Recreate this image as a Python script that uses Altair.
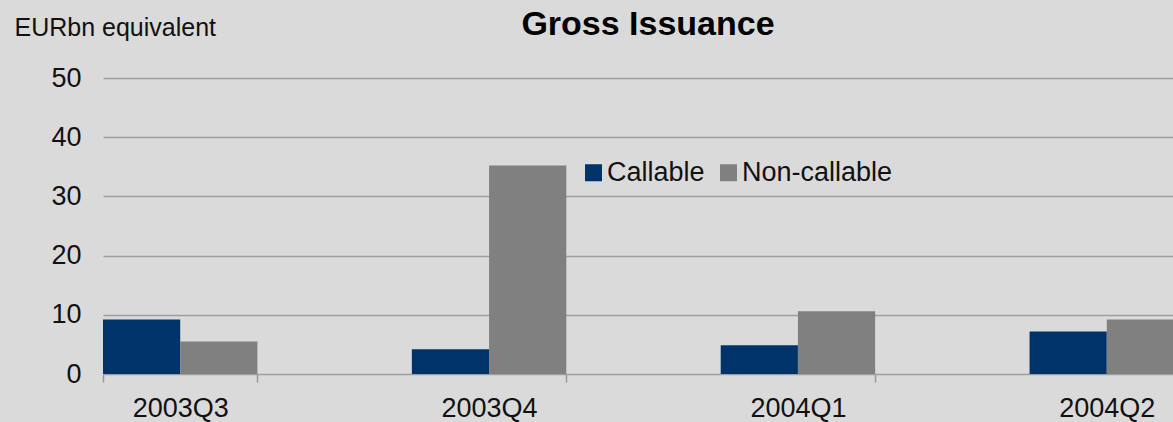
import altair as alt
import pandas as pd

quarters = ["2003Q3", "2003Q4", "2004Q1", "2004Q2"]
callable_vals = [9.2, 4.2, 4.85, 7.2]
non_callable_vals = [5.5, 35.2, 10.6, 9.2]
series = ["Callable", "Non-callable"]
colors = ["#00336a", "#808080"]

rows = []
for q, c, n in zip(quarters, callable_vals, non_callable_vals):
    rows.append({"quarter": q, "series": "Callable", "value": c})
    rows.append({"quarter": q, "series": "Non-callable", "value": n})
df = pd.DataFrame(rows)

FONT = "Liberation Sans"

chart = (
    alt.Chart(df)
    .mark_bar(clip=True)
    .encode(
        x=alt.X(
            "quarter:N",
            sort=quarters,
            scale=alt.Scale(range=[0, 1081], paddingInner=0.5, paddingOuter=0),
            axis=alt.Axis(
                title=None,
                labelAngle=0,
                labelFontSize=27,
                labelFont=FONT,
                labelColor="#111111",
                labelPadding=13,
                domain=False,
                grid=False,
                tickBand="extent",
                tickSize=8,
                tickColor="#999999",
                tickWidth=1.5,
            ),
        ),
        xOffset=alt.XOffset(
            "series:N", sort=series, scale=alt.Scale(paddingInner=0, paddingOuter=0)
        ),
        y=alt.Y(
            "value:Q",
            scale=alt.Scale(domain=[0, 50], nice=False),
            axis=alt.Axis(
                title="EURbn equivalent",
                titleAngle=0,
                titleAlign="left",
                titleBaseline="alphabetic",
                titleX=-89,
                titleY=-43,
                titleFontSize=25,
                titleFontWeight="normal",
                titleFont=FONT,
                titleColor="#111111",
                values=[0, 10, 20, 30, 40, 50],
                labelFontSize=27,
                labelFont=FONT,
                labelColor="#111111",
                labelPadding=22,
                domain=False,
                ticks=False,
                tickSize=0,
                grid=True,
                gridColor="#9e9e9e",
                gridWidth=1.5,
            ),
        ),
        color=alt.Color(
            "series:N",
            sort=series,
            scale=alt.Scale(domain=series, range=colors),
            legend=alt.Legend(
                title=None,
                orient="none",
                direction="horizontal",
                legendX=477,
                legendY=81,
                symbolType="square",
                symbolSize=289,
                symbolStrokeWidth=0,
                symbolOpacity=1,
                labelFontSize=27,
                labelFont=FONT,
                labelColor="#111111",
                labelOffset=0,
                columnPadding=10,
                padding=0,
            ),
        ),
    )
    .properties(
        width=1070,
        height=296,
        title=alt.Title(
            "Gross Issuance",
            fontSize=34,
            fontWeight="bold",
            font=FONT,
            color="#000000",
            anchor="middle",
            frame="group",
            dx=10,
            dy=31,
        ),
        autosize=alt.AutoSizeParams(type="none"),
        padding={"left": 103, "top": 78, "right": 0, "bottom": 48},
        background="#dadada",
    )
    .configure_view(stroke=None)
)

chart.save("out.html", embed_options={"renderer": "svg", "actions": False})
